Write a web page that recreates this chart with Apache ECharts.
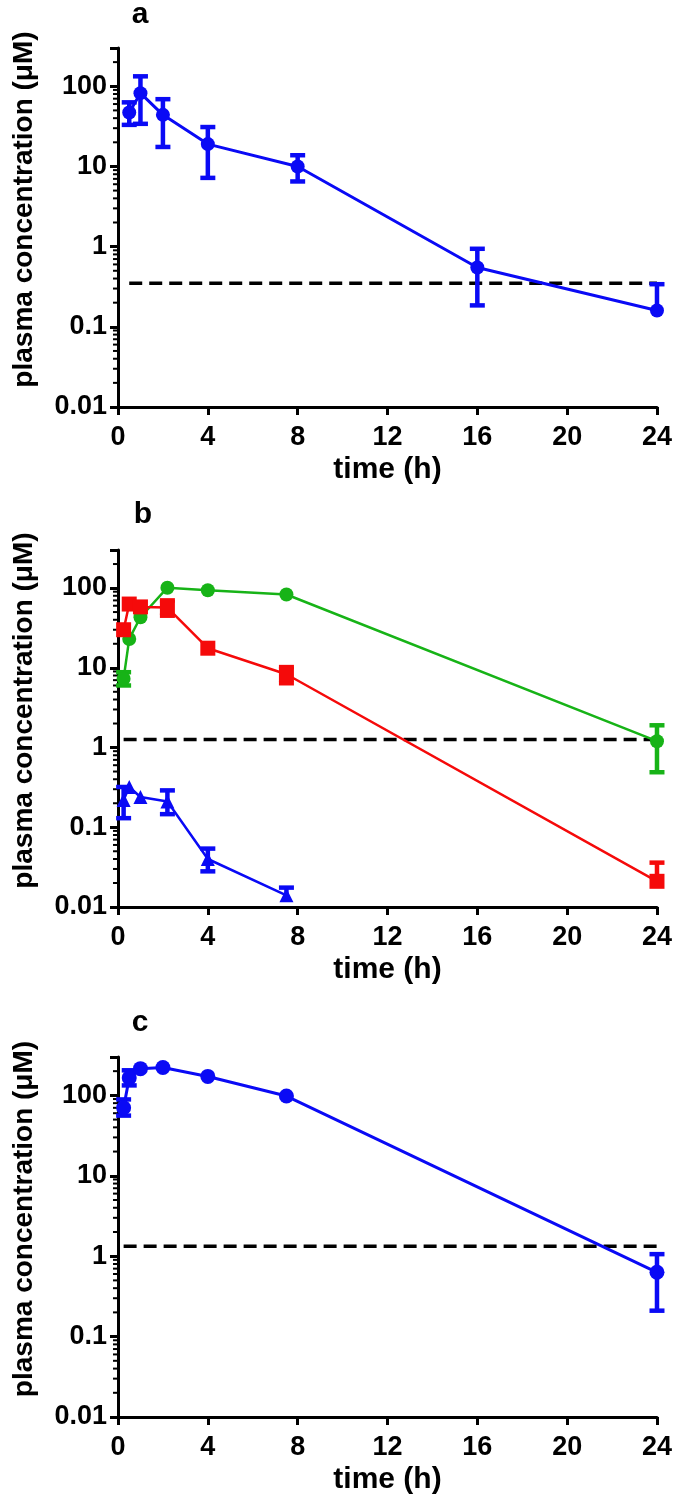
<!DOCTYPE html>
<html>
<head>
<meta charset="utf-8">
<script src="https://cdn.jsdelivr.net/npm/echarts@6/dist/echarts.min.js"></script>
<style>
  html, body { margin: 0; padding: 0; background: #fff; }
  #chart { width: 675px; height: 1506px; }
</style>
</head>
<body>
<div id="chart"></div>
<script>
// panel a
const timeA = [0.5, 1, 2, 4, 8, 16, 24]
const concA = [47, 82, 44, 19, 10, 0.55, 0.16]
const lowA = [33, 34, 17.5, 7.2, 6.5, 0.185, null]
const highA = [63, 133, 69, 31, 13.8, 0.94, 0.34]
const lodA = 0.35

// panel b
const timeB = [0.25, 0.5, 1, 2.2, 4, 7.5, 24]
const greenB = [7.3, 23, 43, 101, 94, 83, 1.2]
const greenLowB = [6, null, null, null, null, null, 0.49]
const greenHighB = [8.8, null, null, null, null, null, 1.9]
const redB = [30, 63, 58, 57, 17.6, 8.3, 0.021]
const redLowB = [null, null, null, 45, null, 6.4, null]
const redHighB = [null, null, null, 70, null, 10.2, 0.036]
const timeBlueB = [0.25, 0.5, 1, 2.2, 4, 7.5]
const blueB = [0.22, 0.32, 0.24, 0.21, 0.04, 0.014]
const blueLowB = [0.13, null, null, 0.146, 0.028, null]
const blueHighB = [0.32, null, null, 0.29, 0.054, 0.0175]
const lodB = 1.26

// panel c
const timeC = [0.25, 0.5, 1, 2, 4, 7.5, 24]
const concC = [70, 165, 215, 222, 172, 98, 0.63]
const lowC = [56, 133, null, null, null, null, 0.21]
const highC = [89, 205, null, null, null, null, 1.06]
const lodC = 1.33

// axes
const xTicks = [0, 4, 8, 12, 16, 20, 24]
const yTickLabels = { '-2': '0.01', '-1': '0.1', '0': '1', '1': '10', '2': '100' }
const minorMultipliers = [2, 3, 4, 5, 6, 7, 8, 9]
const decades = [0.01, 0.1, 1, 10, 100]
const panelLetters = ['a', 'b', 'c']

const BLUE = '#0a0af5'
const GREEN = '#17b317'
const RED = '#f50a0a'
const FONT = '"Liberation Sans", Arial, sans-serif'

const grids = [
  { left: 118, right: 18, top: 48, height: 359 },
  { left: 118, right: 18, top: 550, height: 357 },
  { left: 118, right: 18, top: 1057, height: 360 },
]

const minorVals = []
decades.forEach(d => minorMultipliers.forEach(m => {
  const v = +(d * m).toPrecision(3)
  if (v <= 300) minorVals.push(v)
}))

const xAxes = grids.map((g, i) => ({
  type: 'value',
  gridIndex: i,
  min: 0,
  max: 24,
  interval: 4,
  name: 'time (h)',
  nameLocation: 'middle',
  nameGap: 48,
  nameTextStyle: { color: '#000', fontFamily: FONT, fontWeight: 'bold', fontSize: 30 },
  axisLine: { lineStyle: { color: '#000', width: 3 } },
  axisTick: { inside: false, length: 8, lineStyle: { color: '#000', width: 3 } },
  axisLabel: {
    color: '#000', fontFamily: FONT, fontWeight: 'bold', fontSize: 27, margin: 17,
    formatter: v => (xTicks.includes(v) ? String(v) : ''),
  },
  splitLine: { show: false },
}))

const yAxes = grids.map((g, i) => ({
  type: 'log',
  logBase: 10,
  gridIndex: i,
  min: 0.01,
  max: 300,
  name: 'plasma concentration (μM)',
  nameLocation: 'middle',
  nameRotate: 90,
  nameGap: 80,
  nameTextStyle: {
    color: '#000', fontFamily: FONT, fontWeight: 'bold', fontSize: 28,
    padding: [0, 0, 0, 36],
  },
  axisLine: { lineStyle: { color: '#000', width: 3 } },
  axisTick: { length: 8, lineStyle: { color: '#000', width: 3 } },
  axisLabel: {
    color: '#000', fontFamily: FONT, fontWeight: 'bold', fontSize: 27, margin: 11,
    formatter: v => {
      const e = Math.log10(v)
      const r = Math.round(e)
      return Math.abs(e - r) < 1e-6 ? (yTickLabels[String(r)] || '') : ''
    },
  },
  splitLine: { show: false },
}))

function lineSeries(idx, times, vals, color, symbol, size, width, z) {
  return {
    type: 'line',
    xAxisIndex: idx,
    yAxisIndex: idx,
    data: times.map((t, i) => [t, vals[i]]),
    symbol: symbol,
    symbolSize: size,
    showSymbol: true,
    itemStyle: { color: color, opacity: 1 },
    lineStyle: { color: color, width: width },
    emphasis: { disabled: true },
    z: z,
  }
}

function errorSeries(idx, times, vals, lows, highs, color, z) {
  const data = []
  times.forEach((t, i) => {
    if (lows[i] == null && highs[i] == null) return
    data.push([
      t,
      lows[i] == null ? vals[i] : lows[i],
      highs[i] == null ? vals[i] : highs[i],
      lows[i] == null ? 0 : 1,
      highs[i] == null ? 0 : 1,
    ])
  })
  return {
    type: 'custom',
    xAxisIndex: idx,
    yAxisIndex: idx,
    data: data,
    z: z,
    silent: true,
    clip: false,
    renderItem: (params, api) => {
      const x = api.value(0)
      const pLo = api.coord([x, api.value(1)])
      const pHi = api.coord([x, api.value(2)])
      const style = { stroke: color, lineWidth: 4.5 }
      const cap = 7.5
      const children = [
        { type: 'line', shape: { x1: pLo[0], y1: pLo[1], x2: pHi[0], y2: pHi[1] }, style },
      ]
      if (api.value(3)) children.push({ type: 'line', shape: { x1: pLo[0] - cap, y1: pLo[1], x2: pLo[0] + cap, y2: pLo[1] }, style })
      if (api.value(4)) children.push({ type: 'line', shape: { x1: pHi[0] - cap, y1: pHi[1], x2: pHi[0] + cap, y2: pHi[1] }, style })
      return { type: 'group', children }
    },
  }
}

function lodSeries(idx, start, lod) {
  return {
    type: 'line',
    xAxisIndex: idx,
    yAxisIndex: idx,
    data: [[start, lod], [24, lod]],
    symbol: 'none',
    silent: true,
    lineStyle: { color: '#000', width: 3.5, type: [13, 7] },
    z: 1,
  }
}

function minorTickSeries(idx) {
  return {
    type: 'custom',
    xAxisIndex: idx,
    yAxisIndex: idx,
    data: minorVals.map(v => [0, v]),
    silent: true,
    clip: false,
    z: 0,
    renderItem: (params, api) => {
      const p = api.coord([0, api.value(1)])
      return {
        type: 'line',
        shape: { x1: p[0] - 5, y1: p[1], x2: p[0], y2: p[1] },
        style: { stroke: '#000', lineWidth: 2 },
      }
    },
  }
}

const series = [
  minorTickSeries(0), minorTickSeries(1), minorTickSeries(2),
  // a
  lodSeries(0, timeA[0], lodA),
  errorSeries(0, timeA, concA, lowA, highA, BLUE, 3),
  lineSeries(0, timeA, concA, BLUE, 'circle', 14, 3, 4),
  // b
  lodSeries(1, timeB[0], lodB),
  errorSeries(1, timeB, greenB, greenLowB, greenHighB, GREEN, 3),
  lineSeries(1, timeB, greenB, GREEN, 'circle', 14, 2.5, 4),
  errorSeries(1, timeB, redB, redLowB, redHighB, RED, 5),
  lineSeries(1, timeB, redB, RED, 'rect', 15, 2.5, 6),
  errorSeries(1, timeBlueB, blueB, blueLowB, blueHighB, BLUE, 7),
  lineSeries(1, timeBlueB, blueB, BLUE, 'triangle', 14, 2.5, 8),
  // c
  lodSeries(2, timeC[0], lodC),
  errorSeries(2, timeC, concC, lowC, highC, BLUE, 3),
  lineSeries(2, timeC, concC, BLUE, 'circle', 15, 3, 4),
]

const letterPos = [[140, 15], [143, 515], [140, 1023]]

const chart = echarts.init(document.getElementById('chart'), null, { renderer: 'canvas' })
chart.setOption({
  animation: false,
  backgroundColor: '#fff',
  grid: grids,
  xAxis: xAxes,
  yAxis: yAxes,
  series: series,
  graphic: panelLetters.map((l, i) => ({
    type: 'text',
    x: letterPos[i][0],
    y: letterPos[i][1],
    style: {
      text: l,
      fill: '#000',
      font: 'bold 30px ' + FONT,
      textAlign: 'center',
      textVerticalAlign: 'middle',
    },
  })),
})
</script>
</body>
</html>
